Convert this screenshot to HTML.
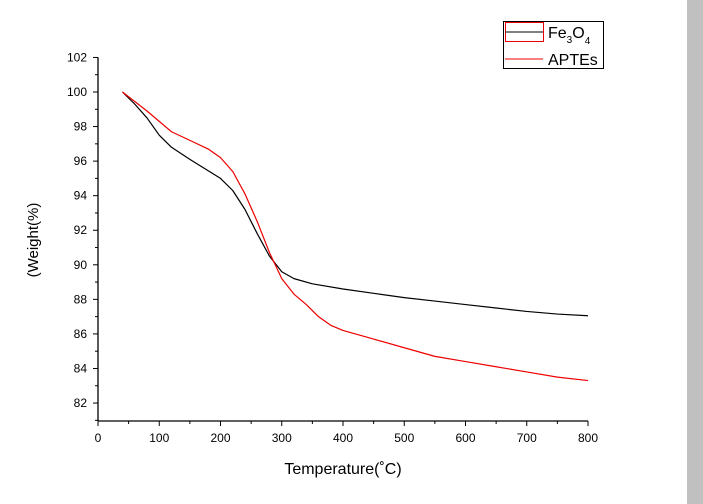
<!DOCTYPE html>
<html><head><meta charset="utf-8"><style>
body{margin:0;background:#fff;width:703px;height:504px;overflow:hidden;font-family:"Liberation Sans",Arial,sans-serif}
</style></head><body>
<svg width="703" height="504" style="position:absolute;left:0;top:0">
<rect x="687" y="0" width="16" height="504" fill="#c0c0c0"/>
<g id="axes"></g>
<g id="series"></g>
<text x="343" y="474" font-size="16" text-anchor="middle">Temperature(˚C)</text>
<text transform="translate(38,240) rotate(-90)" font-size="15" text-anchor="middle">(Weight(%)</text>
<g>
<rect x="503.5" y="21.5" width="100" height="47" fill="#fff" stroke="#000"/>
<rect x="505.5" y="22.5" width="38" height="19" fill="none" stroke="#e00"/>
<line x1="505" y1="32" x2="543" y2="32" stroke="#000"/>
<text x="548" y="38" font-size="16">Fe<tspan font-size="10" dy="5">3</tspan><tspan dy="-5">O</tspan><tspan font-size="10" dy="6">4</tspan></text>
<line x1="505" y1="59" x2="543" y2="59" stroke="#e00"/>
<text x="548" y="65" font-size="16">APTEs</text>
</g>
</svg>
<script>
const xTicks=[0,100,200,300,400,500,600,700,800];
const yTicks=[82,84,86,88,90,92,94,96,98,100,102];
const fe3o4T=[40,60,80,100,120,150,200,220,240,260,280,300,320,350,400,450,500,550,600,650,700,750,800];
const fe3o4W=[100,99.3,98.5,97.5,96.8,96.1,95.0,94.3,93.2,91.8,90.5,89.6,89.2,88.9,88.6,88.35,88.1,87.9,87.7,87.5,87.3,87.15,87.05];
const aptesT=[40,80,100,120,150,180,200,220,240,260,280,300,320,340,360,380,400,450,500,550,600,650,700,750,800];
const aptesW=[100,98.9,98.3,97.7,97.2,96.7,96.2,95.4,94.1,92.5,90.7,89.2,88.3,87.7,87.0,86.5,86.2,85.7,85.2,84.7,84.4,84.1,83.8,83.5,83.3];
const X0=98,X1=588,YB=421,YT=57.4;
const xs=v=>X0+(v-0)/800*(X1-X0);
const ys=v=>92-(v-100)*17.28;
const NS='http://www.w3.org/2000/svg';
function mk(tag,a,parent){const e=document.createElementNS(NS,tag);for(const k in a)e.setAttribute(k,a[k]);parent.appendChild(e);return e;}
const ax=document.getElementById('axes');
let l=mk('line',{x1:X0,y1:YB,x2:X1,y2:YB,stroke:'#000','stroke-width':1.3},ax);


l=mk('line',{x1:X0,y1:YB,x2:X0,y2:YT,stroke:'#000','stroke-width':1.3},ax);


xTicks.forEach((t,i)=>{
 const x=xs(t);
 mk('line',{x1:x,y1:YB,x2:x,y2:YB+5,stroke:'#000'},ax);
 if(i<xTicks.length-1)mk('line',{x1:xs(t+50),y1:YB,x2:xs(t+50),y2:YB+3,stroke:'#000'},ax);
 const tx=mk('text',{x:x,y:YB+21,'font-size':12,'text-anchor':'middle'},ax);tx.textContent=t;
 
 
});
mk('line',{x1:X0,y1:ys(81),x2:X0-3,y2:ys(81),stroke:'#000'},ax);
yTicks.forEach((t,i)=>{
 const y=ys(t);
 mk('line',{x1:X0,y1:y,x2:X0-5,y2:y,stroke:'#000'},ax);
 if(i<yTicks.length-1)mk('line',{x1:X0,y1:ys(t+1),x2:X0-3,y2:ys(t+1),stroke:'#000'},ax);
 const tx=mk('text',{x:X0-11,y:y+4,'font-size':12,'text-anchor':'end'},ax);tx.textContent=t;
 
 
});
const sg=document.getElementById('series');
function line(T,W,c,name){
 const p=mk('polyline',{points:T.map((t,i)=>xs(t)+','+ys(W[i])).join(' '),fill:'none',stroke:c,'stroke-width':1.2,'stroke-linejoin':'round'},sg);
 
 
}
line(fe3o4T,fe3o4W,'#000','fe3o4-line');
line(aptesT,aptesW,'#e00','aptes-line');
</script>
</body></html>
